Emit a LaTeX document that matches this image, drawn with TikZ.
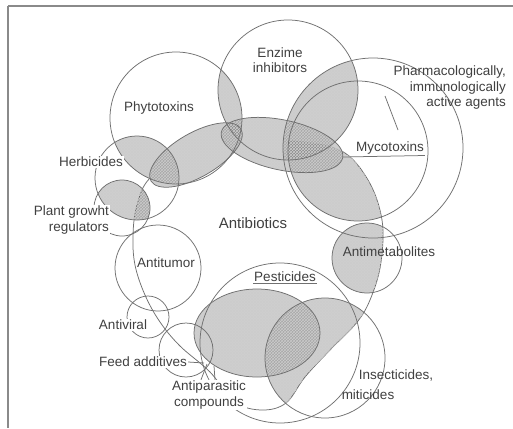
\documentclass[tikz,border=0pt]{standalone}
\usepackage{fontspec}
\setmainfont{Liberation Sans}
\usetikzlibrary{patterns}
\definecolor{lc}{HTML}{707070}
\definecolor{tc}{HTML}{404040}
\definecolor{fc}{HTML}{8A8A8A}
\begin{document}
\begin{tikzpicture}[x=1pt,y=-1pt,
  ln/.style={draw=lc,line width=0.75pt},
  hatch/.style={fill=black,fill opacity=0.19,postaction={fill opacity=1,pattern=crosshatch,pattern color=gray!40}},
  lbl/.style={font=\fontsize{13.5}{15.5}\selectfont,text=tc,inner sep=1pt},
  wl/.style={lbl,fill=white}
]
\def\Zpath{plot[smooth cycle,tension=0.6] coordinates {(240,135) (290,140) (340,150) (368,180) (382,220) (381,262) (372,295) (358,321) (330,350) (305,377) (286,403) (262,410) (235,402) (210,372) (180,346) (160,322) (145,295) (135,265) (133,235) (137,205) (150,178) (188,152)}}
\useasboundingbox (0,0) rectangle (513,428);
\fill[white] (0,0) rectangle (513,428);
% frame
\draw[fc,line width=2.5pt] (8,6) -- (513,6);
\draw[fc,line width=1.6pt] (8,6) -- (8,428);
% antibiotics outline, hidden inside the two long ellipses
\draw[ln] \Zpath;
\fill[white,rotate around={30:(196,155)}] (196,155) ellipse[x radius=52,y radius=22];
\fill[white,rotate around={-12:(282,145)}] (282,145) ellipse[x radius=62,y radius=25];
% ---------- hatched regions ----------
% Phytotoxins & Enzime inhibitors
\begin{scope}\clip (176,118) circle[radius=66]; \fill[hatch] (288,90) circle[radius=70];\end{scope}
% two long ellipses
\fill[hatch,rotate around={30:(196,155)}] (196,155) ellipse[x radius=52,y radius=22];
\fill[hatch,rotate around={-12:(282,145)}] (282,145) ellipse[x radius=62,y radius=25];
% Enzime & pharmacological
\begin{scope}\clip (288,90) circle[radius=70]; \fill[hatch] (373,148) circle[radius=90];\end{scope}
% Mycotoxins & antibiotics
\begin{scope}\clip (358,151) circle[radius=70]; \fill[hatch] \Zpath;\end{scope}
% Herbicides
\begin{scope}\clip (176,118) circle[radius=66]; \fill[hatch] (137,178) circle[radius=42];\end{scope}
% Plant growth regulators
\begin{scope}\clip (137,178) circle[radius=42]; \fill[hatch] (122,208) circle[radius=28];\end{scope}
\begin{scope}\clip (137,178) circle[radius=42]; \clip (122,208) circle[radius=28]; \fill[hatch] \Zpath;\end{scope}
% Antimetabolites
\begin{scope}\clip (367,258) circle[radius=35]; \fill[hatch] \Zpath;\end{scope}
% Pesticides ellipse
\fill[hatch] (257,333) ellipse[x radius=63,y radius=44];
% Insecticides & antibiotics
\begin{scope}\clip (325,358) circle[radius=60]; \fill[hatch] \Zpath;\end{scope}
% ---------- outlines ----------
\draw[ln] (176,118) circle[radius=66];
\draw[ln] (288,90) circle[radius=70];
\draw[ln] (373,148) circle[radius=90];
\draw[ln] (358,151) circle[radius=70];
\draw[ln,rotate around={30:(196,155)}] (196,155) ellipse[x radius=52,y radius=22];
\draw[ln,rotate around={-12:(282,145)}] (282,145) ellipse[x radius=62,y radius=25];
\draw[ln] (137,178) circle[radius=42];
\draw[ln] (122,208) circle[radius=28];
\draw[ln] (367,258) circle[radius=35];
\draw[ln] (158,268) circle[radius=43];
\draw[ln] (148,317) circle[radius=21];
\draw[ln] (186,350) circle[radius=27];
\draw[ln] (280,343) circle[radius=80];
\draw[ln] (257,333) ellipse[x radius=63,y radius=44];
\draw[ln] (325,358) circle[radius=60];
% ---------- labels ----------
\node[lbl,align=center] (enz) at (280,60) {Enzime\\inhibitors};
\node[lbl] (phy) at (159,108) {Phytotoxins};
\node[lbl,align=right,anchor=east] (pha) at (507,88) {Pharmacologically,\\immunologically\\active agents};
\node[lbl] (myc) at (390,148) {Mycotoxins};
\node[wl] (her) at (91,162) {Herbicides};
\node[wl,align=right,anchor=east] (pgr) at (110,220) {Plant growht\\regulators};
\node[lbl,font=\fontsize{15}{17}\selectfont] (ant) at (253,223) {Antibiotics};
\node[lbl] (atu) at (166,263) {Antitumor};
\node[lbl] (ame) at (389,252) {Antimetabolites};
\node[lbl] (pes) at (285,277) {Pesticides};
\node[wl] (avi) at (123,325) {Antiviral};
\node[wl] (fee) at (143,362) {Feed additives};
\node[wl,align=center] (apa) at (209,395) {Antiparasitic\\compounds};
\node[lbl] (ins) at (396,375) {Insecticides,};
\node[lbl] (mit) at (368,395) {miticides};
% ---------- leaders / underlines ----------
\coordinate (p1) at (398,130);
\draw[ln] (385,96) -- (p1);
\draw[ln] (343,157) -- (myc.south east);
\draw[ln] (pes.south west) -- (pes.south east);
\coordinate (f1) at (204,363);
\draw[ln] (fee.east) -- (f1);
\coordinate (a1) at (207,364);
\coordinate (a2) at (214,366);
\draw[ln] (apa.north)+(-8,0) -- (a1);
\draw[ln] (apa.north)+(6,0) -- (a2);
\end{tikzpicture}
\end{document}
